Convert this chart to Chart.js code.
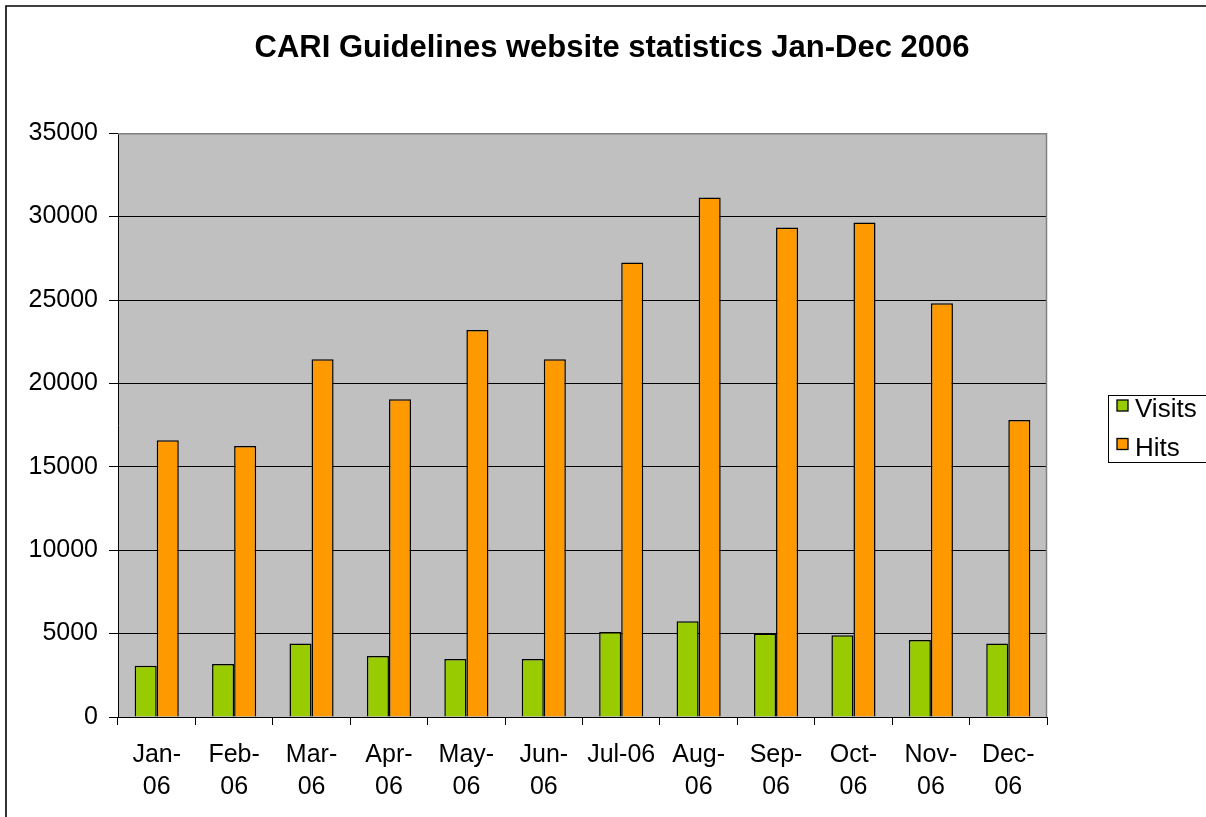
<!DOCTYPE html>
<html>
<head>
<meta charset="utf-8">
<title>CARI Guidelines website statistics</title>
<script src="https://cdn.jsdelivr.net/npm/chart.js@4/dist/chart.umd.min.js"></script>
<style>
  html, body { margin: 0; padding: 0; background: #fff; }
  #wrap { width: 1206px; height: 817px; }
</style>
</head>
<body>
<div id="wrap"><canvas id="statsChart" width="1206" height="817"></canvas></div>
<script>
// month labels (Excel wrapped most of them on two lines)
const months = [
    ["Jan-", "06"], ["Feb-", "06"], ["Mar-", "06"], ["Apr-", "06"],
    ["May-", "06"], ["Jun-", "06"], "Jul-06", ["Aug-", "06"],
    ["Sep-", "06"], ["Oct-", "06"], ["Nov-", "06"], ["Dec-", "06"]
];
const visits = [3080, 3180, 4400, 3660, 3480, 3480, 5100, 5740, 5000, 4900, 4620, 4400];
const hits = [16590, 16250, 21450, 19050, 23200, 21450, 27250, 31150, 29350, 29650, 24800, 17800];
const yMax = 35000;
const yStep = 5000;

const FONT = "Arial, 'Liberation Sans', sans-serif";

// white page, frame, grey plot area, custom boxed legend
const excelLook = {
    id: "excelLook",
    beforeDraw(chart) {
        const c = chart.ctx;
        const a = chart.chartArea;
        c.save();
        c.fillStyle = "#fff";
        c.fillRect(0, 0, chart.width, chart.height);
        c.strokeStyle = "#000";
        c.lineWidth = 1.6;
        c.beginPath();
        c.moveTo(6, chart.height + 2);
        c.lineTo(6, 6);
        c.lineTo(chart.width + 2, 6);
        c.stroke();
        c.fillStyle = "#c0c0c0";
        c.fillRect(a.left, a.top, a.right - a.left, a.bottom - a.top);
        c.restore();
    },
    afterDraw(chart) {
        const c = chart.ctx;
        const a = chart.chartArea;
        c.save();
        c.strokeStyle = "#808080";
        c.lineWidth = 1.5;
        c.beginPath();
        c.moveTo(a.left, a.top + 0.5);
        c.lineTo(a.right - 0.5, a.top + 0.5);
        c.lineTo(a.right - 0.5, a.bottom);
        c.stroke();

        // legend box
        c.strokeStyle = "#000";
        c.lineWidth = 1;
        c.strokeRect(1108.5, 395.5, 120, 67);
        c.font = "26px " + FONT;
        c.textBaseline = "alphabetic";
        chart.data.datasets.forEach(function (ds, i) {
            const y = 400 + i * 38.5;
            c.fillStyle = ds.backgroundColor;
            c.fillRect(1117, y, 11, 11);
            c.strokeStyle = "#000";
            c.lineWidth = 1.3;
            c.strokeRect(1117, y, 11, 11);
            c.fillStyle = "#000";
            c.fillText(ds.label, 1135, y + 17);
        });
        c.restore();
    }
};

const chart = new Chart(document.getElementById("statsChart"), {
    type: "bar",
    data: {
        labels: months,
        datasets: [
            {
                label: "Visits",
                data: visits,
                backgroundColor: "#99cc00",
                borderColor: "#000",
                borderWidth: 1.5
            },
            {
                label: "Hits",
                data: hits,
                backgroundColor: "#ff9900",
                borderColor: "#000",
                borderWidth: 1.5
            }
        ]
    },
    options: {
        responsive: false,
        animation: false,
        layout: { padding: { left: 18, right: 0, top: 0, bottom: 0 } },
        datasets: {
            bar: { barPercentage: 1, categoryPercentage: 0.57 }
        },
        plugins: {
            legend: { display: false },
            tooltip: { enabled: false },
            title: {
                display: true,
                text: "CARI Guidelines website statistics Jan-Dec 2006",
                color: "#000",
                font: { family: FONT, size: 31, weight: "bold", lineHeight: 1.2 },
                padding: { top: 30, bottom: 66 }
            }
        },
        scales: {
            x: {
                grid: {
                    offset: true,
                    drawOnChartArea: false,
                    drawTicks: true,
                    tickLength: 8,
                    color: "#000"
                },
                border: { color: "#000", width: 1 },
                ticks: {
                    color: "#000",
                    autoSkip: false,
                    maxRotation: 0,
                    padding: 14,
                    font: { family: FONT, size: 25, lineHeight: 1.28 }
                },
                afterFit(scale) { scale.height = 100; }
            },
            y: {
                min: 0,
                max: yMax,
                grid: { color: "#000", lineWidth: 1, tickLength: 9 },
                border: { color: "#000", width: 1 },
                ticks: {
                    stepSize: yStep,
                    color: "#000",
                    padding: 11,
                    font: { family: FONT, size: 25 },
                    callback: function (v) { return String(v); }
                },
                afterFit(scale) { scale.width = 100; }
            },
            // empty axis only used to keep room for the legend on the right
            yRight: {
                position: "right",
                display: true,
                grid: { display: false },
                border: { display: false },
                ticks: { display: false },
                afterFit(scale) { scale.width = 159; }
            }
        }
    },
    plugins: [excelLook]
});
</script>
</body>
</html>
